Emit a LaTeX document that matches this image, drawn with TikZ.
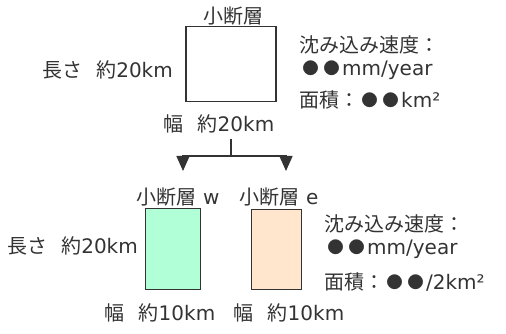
\documentclass[tikz,border=0pt]{standalone}
\usepackage{fontspec}
\setmainfont{DejaVu Sans}
\newfontfamily\cjk{Noto Sans CJK JP}
\usetikzlibrary{arrows.meta}
\newcommand\J[1]{{\cjk #1}}
\newcommand\gap{\hspace{0.7em}}
\newcommand\bul{\makebox[21pt]{\raisebox{0.9pt}{\fontsize{16.5}{16.5}\selectfont\cjk ●}}}
\definecolor{ink}{HTML}{333333}
\definecolor{greenfill}{HTML}{B0FFD6}
\definecolor{orangefill}{HTML}{FFE6CC}
\begin{document}
\begin{tikzpicture}[x=1pt,y=-1pt,
  font=\fontsize{20}{23}\selectfont,
  lbl/.style={inner sep=0pt, text=ink},
  box/.style={draw=ink, line width=1.6pt, inner sep=0pt},
  conn/.style={draw=ink, line width=1.6pt},
  tip/.style={-{Triangle[width=13pt,length=15pt]}}]
\useasboundingbox (0,0) rectangle (506,334);
% top fault
\node[box, minimum width=90, minimum height=75] (big) at (231,64) {};
\node[lbl] (bigname) at (233,16) {\J{小断層}};
\node[lbl, anchor=east] (biglen) at (173,70) {\J{長さ}\gap\J{約}20km};
\node[lbl] (bigwid) at (219,124) {\J{幅}\gap\J{約}20km};
\node[lbl, anchor=west] (bigr1) at (299,45) {\J{沈み込み速度：}};
\node[lbl, anchor=west] (bigr2) at (300,70) {\bul\bul mm/year};
\node[lbl, anchor=west] (bigr3) at (299,100) {\J{面積：}\bul\bul km²};
% connector
\coordinate (s) at (231,139);
\coordinate (j) at (231,156);
\coordinate (lw) at (183,171);
\coordinate (le) at (286,171);
\draw[conn] (s) -- (j);
\draw[conn, tip] (j) -| (lw);
\draw[conn, tip] (j) -| (le);
% lower faults
\node[box, fill=greenfill, minimum width=55, minimum height=81] (w) at (173,249) {};
\node[box, fill=orangefill, minimum width=50, minimum height=80] (e) at (276.5,249.5) {};
\node[lbl] (wname) at (178,197) {\J{小断層} w};
\node[lbl] (ename) at (279,197) {\J{小断層} e};
\node[lbl, anchor=east] (wlen) at (138,246) {\J{長さ}\gap\J{約}20km};
\node[lbl] (wwid) at (160,313) {\J{幅}\gap\J{約}10km};
\node[lbl] (ewid) at (289,313) {\J{幅}\gap\J{約}10km};
\node[lbl, anchor=west] (er1) at (324,224) {\J{沈み込み速度：}};
\node[lbl, anchor=west] (er2) at (325,249) {\bul\bul mm/year};
\node[lbl, anchor=west] (er3) at (324,282) {\J{面積：}\bul\bul/2km²};
\end{tikzpicture}
\end{document}
